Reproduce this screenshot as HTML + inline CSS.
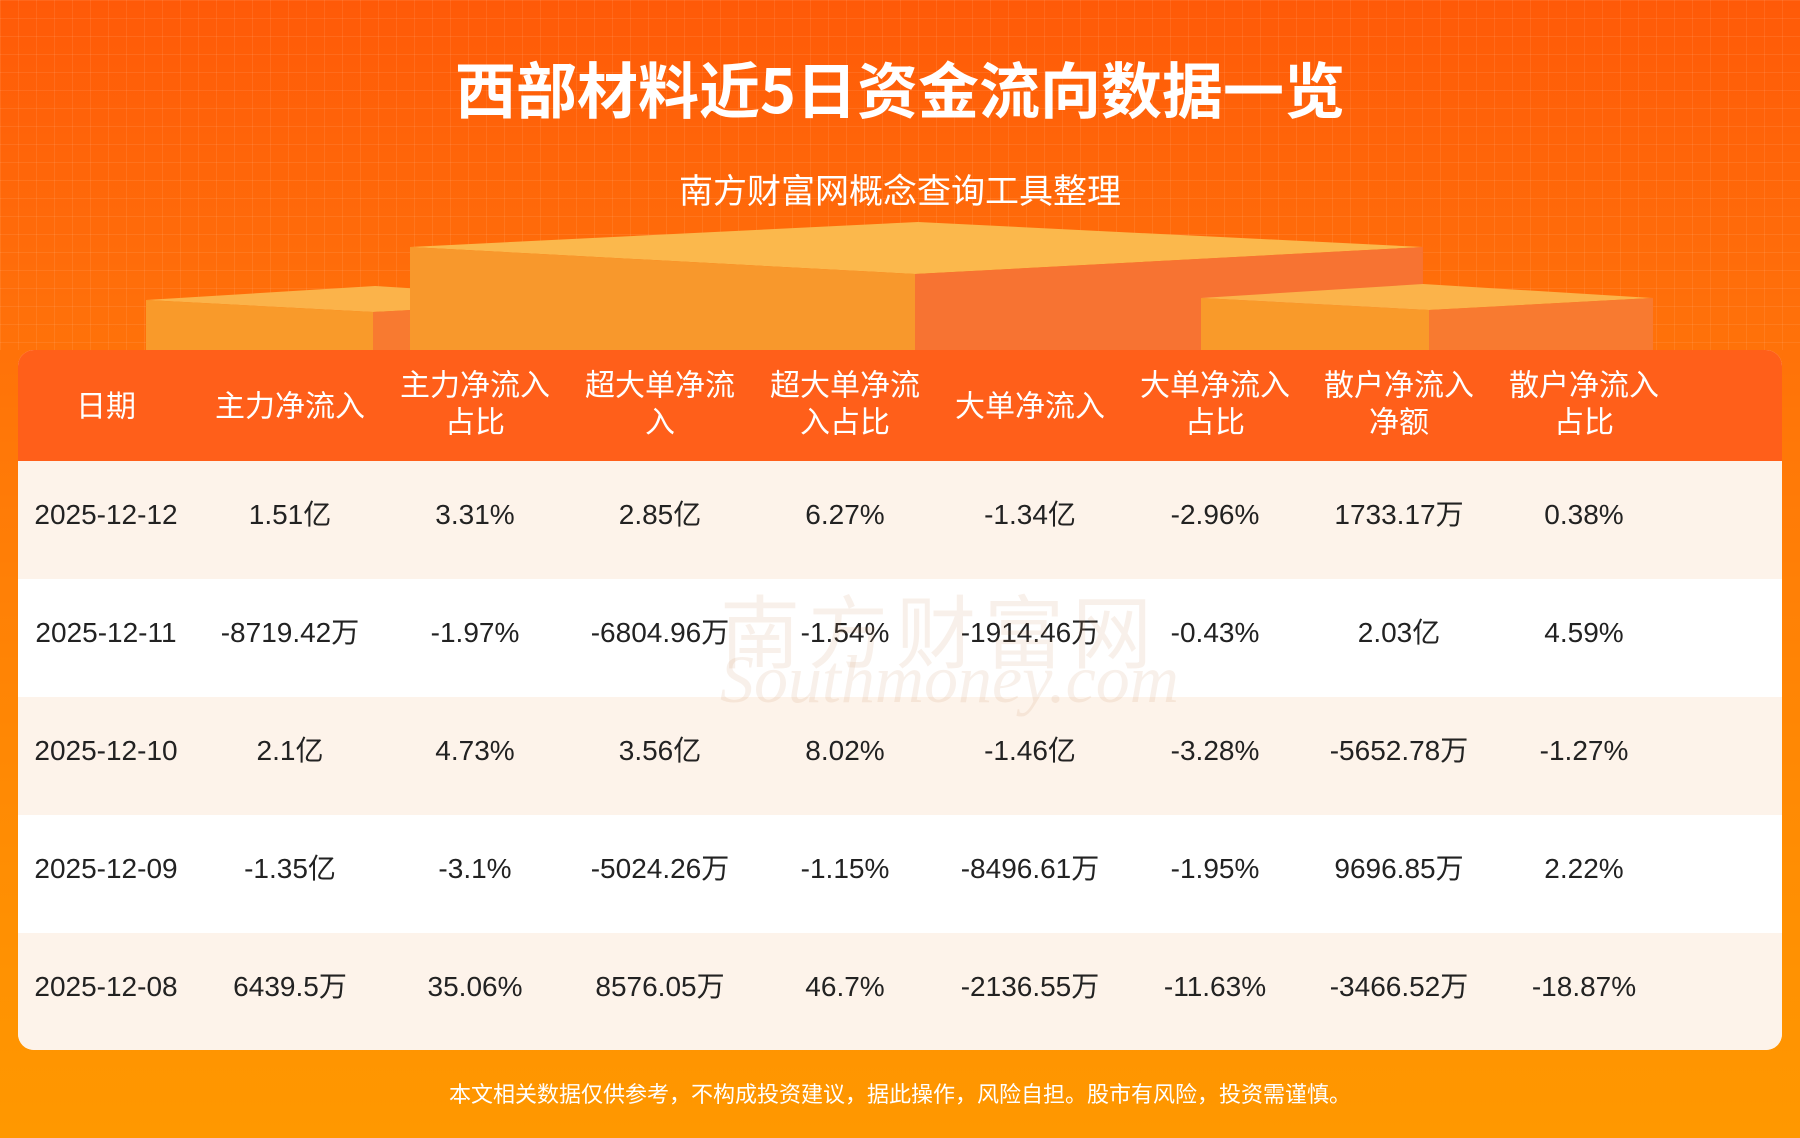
<!DOCTYPE html>
<html><head><meta charset="utf-8"><style>
*{margin:0;padding:0;box-sizing:border-box}
body{width:1800px;height:1138px;overflow:hidden;position:relative;font-family:"Liberation Sans","Noto Sans CJK SC",sans-serif;
background:linear-gradient(180deg,#ff5a08 0%,#ff6e0a 25%,#ff7f06 50%,#ff8d03 75%,#ff9800 100%);}
.grid{position:absolute;left:0;top:0;width:1800px;height:350px;
background-image:linear-gradient(rgba(255,255,255,.08) 1px,transparent 1px),linear-gradient(90deg,rgba(255,255,255,.08) 1px,transparent 1px);background-size:18px 18px;}
h1{position:absolute;top:42px;left:0;width:1800px;text-align:center;color:#fff;font-size:61px;font-weight:bold;font-family:"Noto Sans CJK SC",sans-serif}
.sub{position:absolute;top:164px;left:0;width:1800px;text-align:center;color:#fff;font-size:34px;font-family:"Noto Sans CJK SC",sans-serif}
.card{position:absolute;left:18px;top:350px;width:1764px;height:700px;border-radius:16px;overflow:hidden;background:#fdf3ea}
.hdr{position:absolute;left:0;top:0;width:1764px;height:111px;background:#ff5f1a}
.row{position:absolute;left:0;width:1764px;height:118px}
.c{position:absolute;width:184px;margin-left:-92px;text-align:center;font-family:"Noto Sans CJK SC",sans-serif;white-space:nowrap}
.hdr .c{color:#fff;font-size:30px;line-height:37px;top:50%;transform:translateY(-56%)}
.row .c{color:#222;font-size:28px;top:0;height:118px;line-height:108px;font-family:"Liberation Sans","Noto Sans CJK SC",sans-serif}
.foot{position:absolute;top:1077px;left:0;width:1800px;text-align:center;color:#fff;font-size:22px;font-family:"Noto Sans CJK SC",sans-serif}
.wm{position:absolute;left:720px;top:570px;font-size:80px;color:rgba(200,140,90,.13);font-family:"Noto Sans CJK SC",sans-serif;letter-spacing:8px}
.wm2{position:absolute;left:720px;top:640px;font-size:68px;color:rgba(200,140,90,.13);font-family:"Liberation Serif",serif;font-style:italic}
</style></head><body>
<div class="grid"></div>
<svg style="position:absolute;left:0;top:0" width="1800" height="350">
<polygon points="146,300 375,286 600,300 373,312" fill="#fbb34a"/>
<polygon points="146,300 373,312 373,350 146,350" fill="#f99a2a"/>
<polygon points="373,312 600,300 600,350 373,350" fill="#f87a30"/>
<polygon points="410,247 918,222 1423,247 915,274" fill="#fbb84c"/>
<polygon points="410,247 915,274 915,350 410,350" fill="#f8982c"/>
<polygon points="915,274 1423,247 1423,350 915,350" fill="#f77332"/>
<polygon points="1201,298 1423,284 1653,298 1429,310" fill="#fbb34a"/>
<polygon points="1201,298 1429,310 1429,350 1201,350" fill="#f99a2a"/>
<polygon points="1429,310 1653,298 1653,350 1429,350" fill="#f87a30"/>
</svg>
<h1>西部材料近5日资金流向数据一览</h1>
<div class="sub">南方财富网概念查询工具整理</div>
<div class="card">
<div class="hdr">
<div class="c" style="left:88px">日期</div>
<div class="c" style="left:272px">主力净流入</div>
<div class="c" style="left:457px">主力净流入<br>占比</div>
<div class="c" style="left:642px">超大单净流<br>入</div>
<div class="c" style="left:827px">超大单净流<br>入占比</div>
<div class="c" style="left:1012px">大单净流入</div>
<div class="c" style="left:1197px">大单净流入<br>占比</div>
<div class="c" style="left:1381px">散户净流入<br>净额</div>
<div class="c" style="left:1566px">散户净流入<br>占比</div>
</div>
<div class="row" style="top:111px;background:#fdf3ea">
<div class="c" style="left:88px">2025-12-12</div><div class="c" style="left:272px">1.51亿</div><div class="c" style="left:457px">3.31%</div><div class="c" style="left:642px">2.85亿</div><div class="c" style="left:827px">6.27%</div><div class="c" style="left:1012px">-1.34亿</div><div class="c" style="left:1197px">-2.96%</div><div class="c" style="left:1381px">1733.17万</div><div class="c" style="left:1566px">0.38%</div></div>
<div class="row" style="top:229px;background:#fff">
<div class="c" style="left:88px">2025-12-11</div><div class="c" style="left:272px">-8719.42万</div><div class="c" style="left:457px">-1.97%</div><div class="c" style="left:642px">-6804.96万</div><div class="c" style="left:827px">-1.54%</div><div class="c" style="left:1012px">-1914.46万</div><div class="c" style="left:1197px">-0.43%</div><div class="c" style="left:1381px">2.03亿</div><div class="c" style="left:1566px">4.59%</div></div>
<div class="row" style="top:347px;background:#fdf3ea">
<div class="c" style="left:88px">2025-12-10</div><div class="c" style="left:272px">2.1亿</div><div class="c" style="left:457px">4.73%</div><div class="c" style="left:642px">3.56亿</div><div class="c" style="left:827px">8.02%</div><div class="c" style="left:1012px">-1.46亿</div><div class="c" style="left:1197px">-3.28%</div><div class="c" style="left:1381px">-5652.78万</div><div class="c" style="left:1566px">-1.27%</div></div>
<div class="row" style="top:465px;background:#fff">
<div class="c" style="left:88px">2025-12-09</div><div class="c" style="left:272px">-1.35亿</div><div class="c" style="left:457px">-3.1%</div><div class="c" style="left:642px">-5024.26万</div><div class="c" style="left:827px">-1.15%</div><div class="c" style="left:1012px">-8496.61万</div><div class="c" style="left:1197px">-1.95%</div><div class="c" style="left:1381px">9696.85万</div><div class="c" style="left:1566px">2.22%</div></div>
<div class="row" style="top:583px;background:#fdf3ea">
<div class="c" style="left:88px">2025-12-08</div><div class="c" style="left:272px">6439.5万</div><div class="c" style="left:457px">35.06%</div><div class="c" style="left:642px">8576.05万</div><div class="c" style="left:827px">46.7%</div><div class="c" style="left:1012px">-2136.55万</div><div class="c" style="left:1197px">-11.63%</div><div class="c" style="left:1381px">-3466.52万</div><div class="c" style="left:1566px">-18.87%</div></div>
</div>
<div class="wm">南方财富网</div>
<div class="wm2">Southmoney.com</div>
<div class="foot">本文相关数据仅供参考，不构成投资建议，据此操作，风险自担。股市有风险，投资需谨慎。</div>
</body></html>
